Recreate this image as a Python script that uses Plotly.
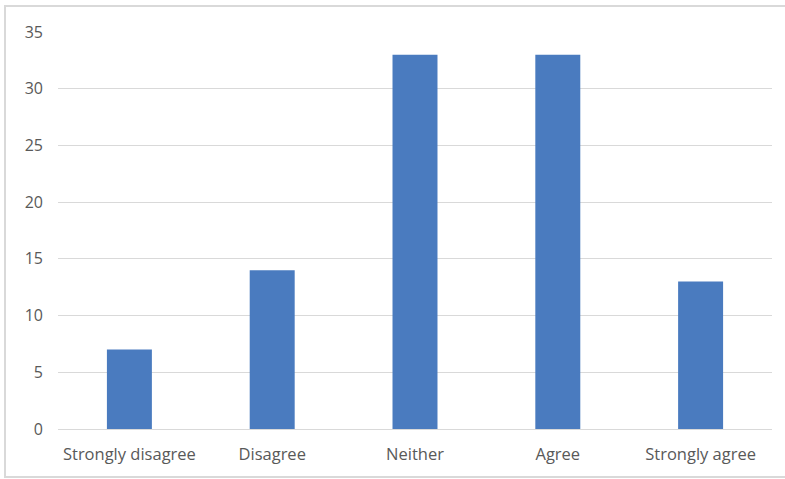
import plotly.graph_objects as go

categories = ["Strongly disagree", "Disagree", "Neither", "Agree", "Strongly agree"]
counts = [7, 14, 33, 33, 13]
y_ticks = [0, 5, 10, 15, 20, 25, 30, 35]

W, H = 785, 479
ml, mr, mt, mb = 58, 13, 32, 50
pw, ph = W - ml - mr, H - mt - mb

fig = go.Figure(
    go.Bar(
        x=categories,
        y=counts,
        marker=dict(color="#4a7bbf", line=dict(width=0)),
        width=0.315,
    )
)

# light frame around the chart area
def px_x(v):
    return (v - ml) / pw

def px_y(v):
    return 1 - (v - mt) / ph

fig.add_shape(
    type="rect", xref="paper", yref="paper",
    x0=px_x(5), x1=px_x(790), y0=px_y(477), y1=px_y(6),
    line=dict(color="#d9d9d9", width=2), fillcolor="rgba(0,0,0,0)", layer="below",
)

fig.update_layout(
    width=W, height=H,
    margin=dict(l=ml, r=mr, t=mt, b=mb),
    paper_bgcolor="white", plot_bgcolor="white",
    showlegend=False,
    font=dict(family="Open Sans, sans-serif", color="#595959"),
    xaxis=dict(
        showgrid=False, showline=True, linecolor="#d9d9d9", linewidth=1,
        ticks="", tickfont=dict(size=16.5), range=[-0.5, 4.5],
        ticklabelstandoff=10,
    ),
    yaxis=dict(
        range=[0, 35], tickvals=y_ticks, showgrid=True, gridcolor="#d9d9d9",
        gridwidth=1, zeroline=False, showline=False, ticks="",
        tickfont=dict(size=16), ticklabelstandoff=14,
    ),
)

fig.write_html("out.html")
